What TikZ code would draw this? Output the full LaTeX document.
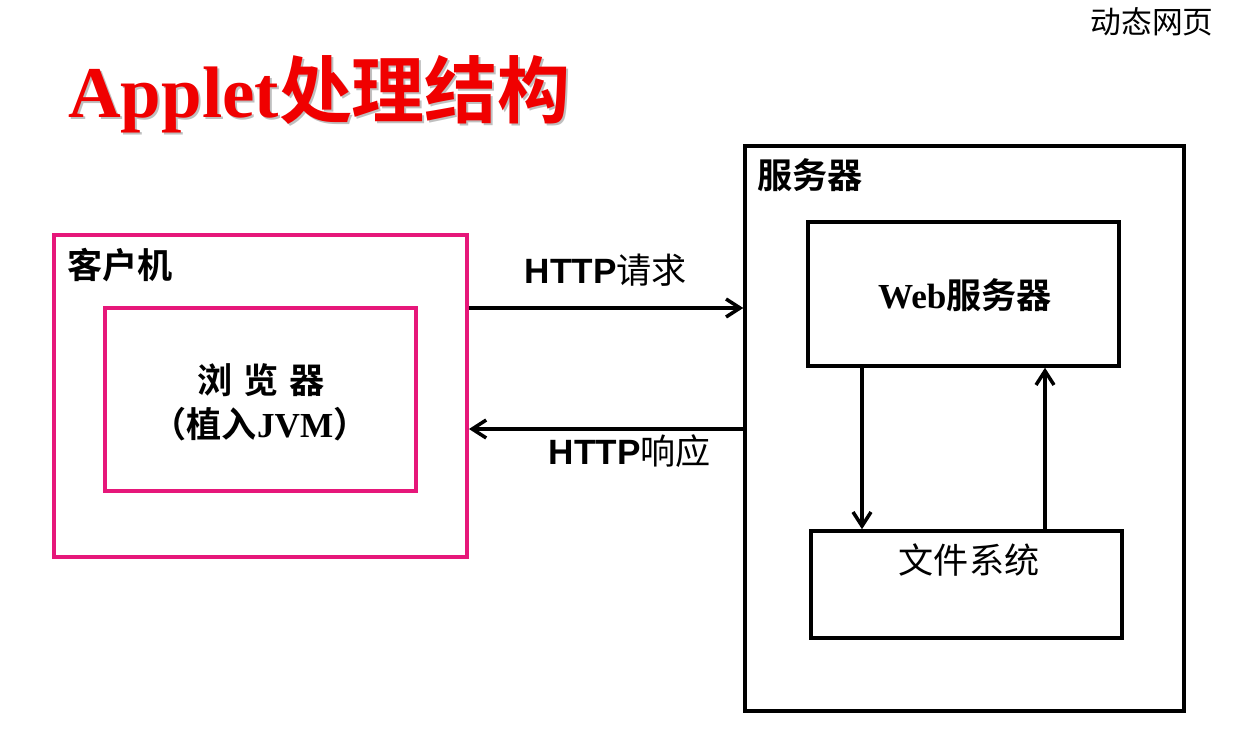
\documentclass[tikz,border=0pt]{standalone}
\usepackage{fontspec}
\setmainfont{Liberation Serif}
\newfontfamily\cjk{Noto Sans CJK SC}[BoldFont={Noto Sans CJK SC Bold}]
\newfontfamily\arialf{Liberation Sans}
\usetikzlibrary{arrows.meta}
\definecolor{clientpink}{RGB}{230,23,122}
\definecolor{titlered}{RGB}{240,0,0}
\tikzset{
  pinkbox/.style={draw=clientpink, line width=2.3pt, inner sep=0pt},
  blackbox/.style={draw=black, line width=2pt, inner sep=0pt},
  arr/.style={line width=2pt, -{Straight Barb[length=2.8mm,width=3.6mm,line width=2pt]}},
  lbl/.style={inner sep=0pt, font=\cjk\fontsize{20pt}{24pt}\selectfont}
}
\begin{document}
\begin{tikzpicture}[x=0.02cm, y=-0.02cm]
  %Canvas
  \useasboundingbox (0,0) rectangle (1244,736);

  %Title
  \node[anchor=base west, inner sep=0pt, text=black!25] (titleshadow) at (70,120)
    {\fontsize{41.5pt}{46pt}\selectfont\bfseries Applet{\cjk 处理结构}};
  \node[anchor=base west, inner sep=0pt, text=titlered] (title) at (68,118)
    {\fontsize{41.5pt}{46pt}\selectfont\bfseries Applet{\cjk 处理结构}};
  \node[inner sep=0pt] (page) at (1152,22) {\cjk\fontsize{17.5pt}{20pt}\selectfont 动态网页};

  %Client side
  \node[pinkbox, minimum width=8.26cm, minimum height=6.44cm] (client) at (260.5,396) {};
  \node[lbl, anchor=west] (clientlbl) at (67,265) {\bfseries 客户机};
  \node[pinkbox, minimum width=6.22cm, minimum height=3.66cm] (browser) at (260.5,399.5) {};
  \node[lbl] (browserlbl) at (261,380) {\bfseries 浏\hspace{0.3em}览\hspace{0.3em}器};
  \node[lbl] (jvm) at (260,424) {\bfseries （植入{\rmfamily JVM}）};

  %Server side
  \node[blackbox, minimum width=8.78cm, minimum height=11.3cm] (server) at (964.5,428.5) {};
  \node[lbl, anchor=west] (serverlbl) at (757,175) {\bfseries 服务器};
  \node[blackbox, minimum width=6.22cm, minimum height=2.88cm] (web) at (963.5,294) {};
  \node[lbl] (weblbl) at (965,295) {\bfseries {\rmfamily Web}服务器};
  \node[blackbox, minimum width=6.22cm, minimum height=2.14cm] (fs) at (966.5,584.5) {};
  \node[lbl] (fslbl) at (969,560) {文件系统};

  %HTTP request and response
  \coordinate (req) at (0,308);
  \coordinate (resp) at (0,429);
  \draw[arr] (req -| client.east) -- (req -| server.west);
  \draw[arr] (resp -| server.west) -- (resp -| client.east);
  \node[inner sep=0pt] (reqlbl) at (606,270)
    {\fontsize{20pt}{24pt}\selectfont{\arialf\bfseries HTTP}{\cjk 请求}};
  \node[inner sep=0pt] (resplbl) at (630,451)
    {\fontsize{20pt}{24pt}\selectfont{\arialf\bfseries HTTP}{\cjk 响应}};

  %Web server and file system
  \coordinate (down) at (862,0);
  \coordinate (up) at (1045,0);
  \draw[arr] (down |- web.south) -- (down |- fs.north);
  \draw[arr] (up |- fs.north) -- (up |- web.south);
\end{tikzpicture}
\end{document}
